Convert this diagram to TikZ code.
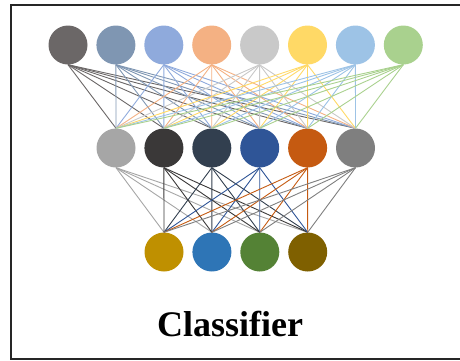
\documentclass[tikz,border=0pt]{standalone}
\usepackage{fontspec}
\setmainfont{Liberation Serif}
\begin{document}
\begin{tikzpicture}[x=1pt,y=-1pt,
  neuron/.style={circle,minimum size=39pt,inner sep=0pt,draw=none},
  link/.style={line width=0.9pt}]
\useasboundingbox (0,0) rectangle (460,360);
\clip (0,0) rectangle (460,360);
% outer frame (runs past the right edge)
\draw[line width=2pt,black!85] (10.5,5) rectangle (475,359);

% colour palette
\definecolor{tA}{HTML}{6B6767}
\definecolor{tB}{HTML}{7F96B2}
\definecolor{tC}{HTML}{8FAADC}
\definecolor{tD}{HTML}{F4B183}
\definecolor{tE}{HTML}{C9C9C9}
\definecolor{tF}{HTML}{FFD966}
\definecolor{tG}{HTML}{9DC3E6}
\definecolor{tH}{HTML}{A9D18E}
\definecolor{mA}{HTML}{A6A6A6}
\definecolor{mB}{HTML}{3A3838}
\definecolor{mC}{HTML}{323F4F}
\definecolor{mD}{HTML}{2F5597}
\definecolor{mE}{HTML}{C55A11}
\definecolor{mF}{HTML}{7F7F7F}
\definecolor{bA}{HTML}{BF9000}
\definecolor{bB}{HTML}{2E75B6}
\definecolor{bC}{HTML}{548235}
\definecolor{bD}{HTML}{7F6000}

% input layer
\foreach \c [count=\i] in {tA,tB,tC,tD,tE,tF,tG,tH}
  \node[neuron,fill=\c] (t\i) at ({68+47.9*(\i-1)},45) {};
% hidden layer
\foreach \c [count=\i] in {mA,mB,mC,mD,mE,mF}
  \node[neuron,fill=\c] (m\i) at ({116+47.9*(\i-1)},148) {};
% output layer
\foreach \c [count=\i] in {bA,bB,bC,bD}
  \node[neuron,fill=\c] (b\i) at ({164+47.9*(\i-1)},252) {};

% connections, coloured after their source neuron
\foreach \c [count=\i] in {tA,tB,tC,tD,tE,tF,tG,tH}
  \foreach \j in {1,...,6}
    \draw[link,\c] (t\i.south) -- (m\j.north);
\foreach \c [count=\i] in {mA,mB,mC,mD,mE,mF}
  \foreach \j in {1,...,4}
    \draw[link,\c] (m\i.south) -- (b\j.north);

\node[font=\bfseries\fontsize{36}{40}\selectfont] (title) at (230,324) {Classifier};
\end{tikzpicture}
\end{document}
